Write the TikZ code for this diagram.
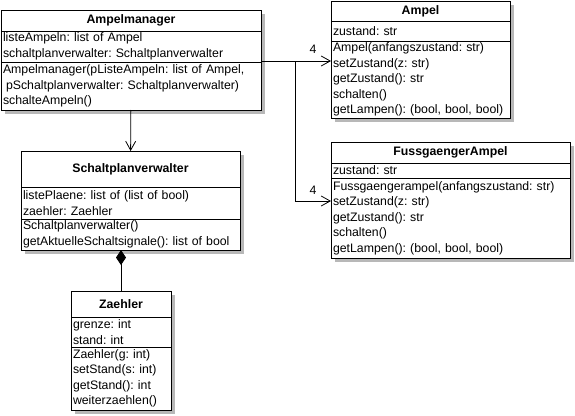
\documentclass[tikz,border=0pt]{standalone}
\usepackage{fontspec}
\setmainfont{Liberation Sans}
\frenchspacing
\usetikzlibrary{positioning,shadows,arrows.meta}

\begin{document}
\begin{tikzpicture}[x=1pt, y=1pt, font=\fontsize{12.3}{15.5}\selectfont,
    klasse/.style={draw, fill=white, line width=0.8pt, outer sep=0pt, inner xsep=2pt, inner ysep=0pt, align=left,
      drop shadow={shadow xshift=4pt, shadow yshift=-4pt, fill=black!28, opacity=1}},
    kopf/.style={klasse, align=center, font=\fontsize{12.3}{15.5}\selectfont\bfseries},
    pfeil/.style={-{Straight Barb[length=9pt,width=10pt]}, line width=0.8pt},
    komp/.style={{Diamond[length=15pt,width=10pt]}-, line width=0.8pt}]
\useasboundingbox (0,0) rectangle (575,-415);
% Ampelmanager
\node[kopf, text width=256pt, minimum height=21pt, anchor=north west] (am) at (1,-10) {Ampelmanager};
\node[klasse, text width=256pt, minimum height=31pt, below=0pt of am] (am-a) {listeAmpeln: list of Ampel\\schaltplanverwalter: Schaltplanverwalter};
\node[klasse, text width=256pt, minimum height=48pt, below=0pt of am-a] (am-m) {Ampelmanager(pListeAmpeln: list of Ampel,\\\hspace*{3pt}pSchaltplanverwalter: Schaltplanverwalter)\\schalteAmpeln()};
% Ampel
\node[kopf, text width=175pt, minimum height=20pt, anchor=north west] (ampel) at (331,-1) {Ampel};
\node[klasse, text width=175pt, minimum height=20pt, below=0pt of ampel] (ampel-a) {zustand: str};
\node[klasse, text width=175pt, minimum height=77pt, below=0pt of ampel-a] (ampel-m) {Ampel(anfangszustand: str)\\setZustand(z: str)\\getZustand(): str\\schalten()\\getLampen(): (bool, bool, bool)};
% FussgaengerAmpel
\node[kopf, text width=235pt, minimum height=21pt, anchor=north west] (fa) at (331,-142) {FussgaengerAmpel};
\node[klasse, text width=235pt, minimum height=15pt, below=0pt of fa] (fa-a) {zustand: str};
\node[klasse, text width=235pt, minimum height=80pt, below=0pt of fa-a] (fa-m) {Fussgaengerampel(anfangszustand: str)\\setZustand(z: str)\\getZustand(): str\\schalten()\\getLampen(): (bool, bool, bool)};
% Schaltplanverwalter
\node[kopf, text width=215pt, minimum height=36pt, anchor=north west] (spv) at (21,-151) {Schaltplanverwalter};
\node[klasse, text width=215pt, minimum height=32pt, below=0pt of spv] (spv-a) {listePlaene: list of (list of bool)\\zaehler: Zaehler};
\node[klasse, text width=215pt, minimum height=31pt, below=0pt of spv-a] (spv-m) {Schaltplanverwalter()\\getAktuelleSchaltsignale(): list of bool};
% Zaehler
\node[kopf, text width=96pt, minimum height=26pt, anchor=north west] (zae) at (71,-291) {Zaehler};
\node[klasse, text width=96pt, minimum height=30pt, below=0pt of zae] (zae-a) {grenze: int\\stand: int};
\node[klasse, text width=96pt, minimum height=63pt, below=0pt of zae-a] (zae-m) {Zaehler(g: int)\\setStand(s: int)\\getStand(): int\\weiterzaehlen()};
% Verbindungen
\coordinate (ampel-in) at ([yshift=-20pt]ampel-m.north west);
\coordinate (fa-in) at ([yshift=-23pt]fa-m.north west);
\coordinate (abzweig) at (295,-61);
\draw[pfeil] (am-a.east |- ampel-in) -- (ampel-in) node[at end, xshift=-18pt, yshift=12pt] {4};
\draw[pfeil] (abzweig) |- (fa-in) node[at end, xshift=-18pt, yshift=11pt] {4};
\draw[pfeil] (am-m) -- (spv);
\draw[komp] (zae.north |- spv-m.south) -- (zae.north);
\end{tikzpicture}
\end{document}
